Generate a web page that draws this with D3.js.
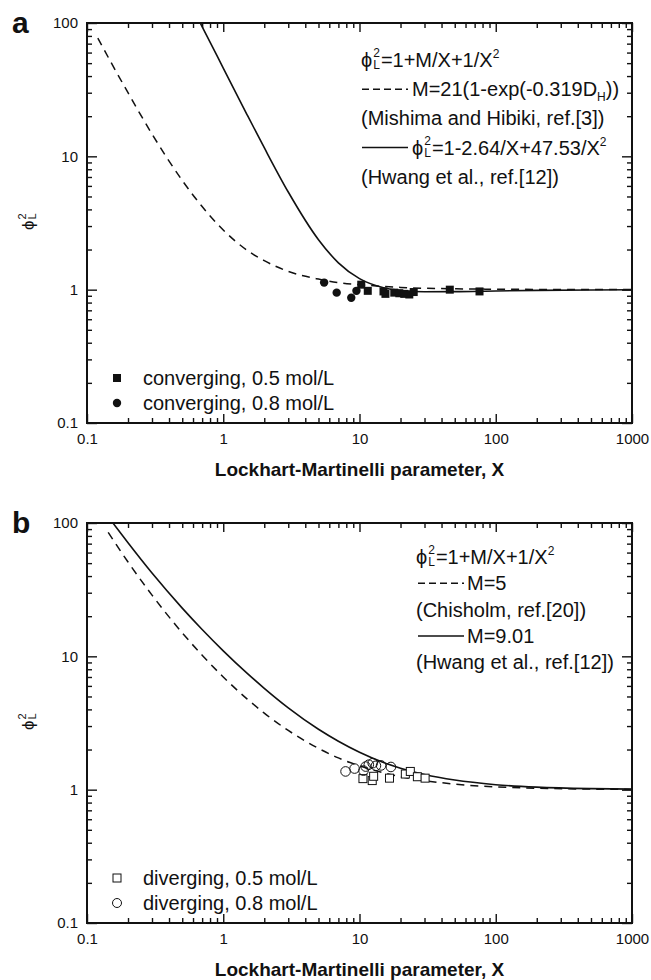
<!DOCTYPE html>
<html>
<head>
<meta charset="utf-8">
<script src="https://cdn.jsdelivr.net/npm/d3@7"></script>
<style>
  html, body { margin: 0; padding: 0; background: #fff; }
  svg { display: block; }
  text { font-family: "Liberation Sans", Arial, sans-serif; fill: #111; }
</style>
</head>
<body>
<svg id="chart" width="651" height="980"></svg>
<script>
// ---------------- DATA ----------------
const xTickValues = [0.1, 1, 10, 100, 1000];
const xTickLabels = ["0.1", "1", "10", "100", "1000"];
const yTickValues = [0.1, 1, 10, 100];
const yTickLabels = ["0.1", "1", "10", "100"];
const xAxisTitle = "Lockhart-Martinelli parameter, X";

// Panel a curves
const aDashedX = [0.12, 0.15, 0.2, 0.3, 0.5, 0.7, 1, 1.5, 2, 3, 5, 7, 10, 20, 50, 100, 1000];
const aDashedY = [77, 50.7, 30, 14.7, 6.6, 4.2, 2.8, 1.97, 1.65, 1.37, 1.2, 1.13, 1.09, 1.04, 1.016, 1.008, 1.001];
const aSolidX = [0.678, 0.8, 1, 1.5, 2, 3, 5, 7, 10, 15, 20, 30, 50, 100, 200, 500, 1000];
const aSolidY = [100, 72, 45.9, 20.4, 11.6, 5.4, 2.37, 1.59, 1.21, 1.035, 0.987, 0.965, 0.966, 0.978, 0.988, 0.995, 0.998];

// Panel a data points
const aSquareX = [10.3, 11.5, 15, 15.5, 18, 19.6, 21.3, 23.2, 25, 46, 76];
const aSquareY = [1.09, 0.98, 0.97, 0.93, 0.95, 0.94, 0.93, 0.92, 0.96, 1.0, 0.97];
const aCircleX = [5.5, 6.8, 8.7, 9.5];
const aCircleY = [1.13, 0.95, 0.87, 0.98];

// Panel b curves
const bDashedX = [0.143, 0.2, 0.3, 0.5, 0.7, 1, 1.5, 2, 3, 5, 7, 10, 15, 20, 30, 50, 100, 200, 500, 1000];
const bDashedY = [85, 51, 28.8, 15, 10.2, 7, 4.78, 3.75, 2.78, 2.04, 1.73, 1.51, 1.34, 1.25, 1.17, 1.1, 1.05, 1.025, 1.01, 1.005];
const bSolidX = [0.155, 0.2, 0.3, 0.5, 0.7, 1, 1.5, 2, 3, 5, 7, 10, 15, 20, 30, 50, 100, 200, 500, 1000];
const bSolidY = [100, 71, 42.1, 23, 15.9, 11, 7.45, 5.76, 4.11, 2.84, 2.31, 1.91, 1.6, 1.45, 1.3, 1.18, 1.09, 1.045, 1.018, 1.009];

// Panel b data points
const bSquareX = [10.6, 12.4, 12.7, 16.6, 21.7, 23.6, 26.6, 30.3];
const bSquareY = [1.21, 1.17, 1.26, 1.22, 1.31, 1.37, 1.25, 1.22];
const bCircleX = [7.9, 9.2, 10.7, 11.1, 11.7, 12.5, 13.2, 14.4, 17.0];
const bCircleY = [1.37, 1.44, 1.39, 1.49, 1.54, 1.58, 1.51, 1.52, 1.48];

const aLegendSeries = ["converging, 0.5 mol/L", "converging, 0.8 mol/L"];
const bLegendSeries = ["diverging, 0.5 mol/L", "diverging, 0.8 mol/L"];

// ---------------- DRAW ----------------
const svg = d3.select("#chart");
const W = 545, H = 400, L = 87;

function zip(xs, ys) { return xs.map((x, i) => [x, ys[i]]); }

// rich text helper
function rich(g, x, y, parts, size) {
  let cx = x;
  const small = Math.round(size * 0.62);
  parts.forEach(p => {
    if (p.k === "stack") {
      const a = g.append("text").attr("x", cx + 1).attr("y", y - size * 0.5).attr("font-size", small).text(p.sup);
      const b = g.append("text").attr("x", cx + 1).attr("y", y + size * 0.12).attr("font-size", small).text(p.sub);
      cx += Math.max(a.node().getComputedTextLength(), b.node().getComputedTextLength()) + 2;
    } else {
      let yy = y, fs = size;
      if (p.k === "sup") { yy = y - size * 0.45; fs = small; }
      if (p.k === "sub") { yy = y + size * 0.22; fs = small; }
      const t = g.append("text").attr("x", cx).attr("y", yy).attr("font-size", fs).text(p.t);
      cx += t.node().getComputedTextLength();
    }
  });
  return cx;
}

const phiL = [{t: "\u03D5", k: "n"}, {k: "stack", sup: "2", sub: "L"}];

function panel(cfg) {
  const T = cfg.top;
  const x = d3.scaleLog().domain([0.1, 1000]).range([L, L + W]);
  const y = d3.scaleLog().domain([0.1, 100]).range([T + H, T]);
  const g = svg.append("g");

  const clipId = "clip" + cfg.letter;
  svg.append("clipPath").attr("id", clipId).append("rect")
    .attr("x", L).attr("y", T).attr("width", W).attr("height", H);

  const minorX = x.ticks().filter(v => !xTickValues.some(t => Math.abs(t - v) < 1e-9));
  const minorY = y.ticks().filter(v => !yTickValues.some(t => Math.abs(t - v) < 1e-9));

  function styleAxis(sel) {
    sel.select(".domain").remove();
    sel.selectAll(".tick line").attr("stroke", "#111").attr("stroke-width", 1.4);
    sel.selectAll(".tick text").attr("font-size", 15).attr("fill", "#111")
      .attr("font-family", "Liberation Sans, Arial, sans-serif");
  }
  g.append("g").attr("transform", `translate(0,${T + H})`)
    .call(d3.axisBottom(x).tickValues(xTickValues).tickFormat((d, i) => xTickLabels[i]).tickSize(-9).tickPadding(10))
    .call(styleAxis);
  g.append("g").attr("transform", `translate(0,${T + H})`)
    .call(d3.axisBottom(x).tickValues(minorX).tickFormat("").tickSize(-5)).call(styleAxis);
  g.append("g").attr("transform", `translate(0,${T})`)
    .call(d3.axisTop(x).tickValues(xTickValues).tickFormat("").tickSize(-9)).call(styleAxis);
  g.append("g").attr("transform", `translate(0,${T})`)
    .call(d3.axisTop(x).tickValues(minorX).tickFormat("").tickSize(-5)).call(styleAxis);
  g.append("g").attr("transform", `translate(${L},0)`)
    .call(d3.axisLeft(y).tickValues(yTickValues).tickFormat((d, i) => yTickLabels[i]).tickSize(-10).tickPadding(9))
    .call(styleAxis);
  g.append("g").attr("transform", `translate(${L},0)`)
    .call(d3.axisLeft(y).tickValues(minorY).tickFormat("").tickSize(-5)).call(styleAxis);
  g.append("g").attr("transform", `translate(${L + W},0)`)
    .call(d3.axisRight(y).tickValues(yTickValues).tickFormat("").tickSize(-10)).call(styleAxis);
  g.append("g").attr("transform", `translate(${L + W},0)`)
    .call(d3.axisRight(y).tickValues(minorY).tickFormat("").tickSize(-5)).call(styleAxis);

  g.append("rect").attr("x", L).attr("y", T).attr("width", W).attr("height", H)
    .attr("fill", "none").attr("stroke", "#111").attr("stroke-width", 2);

  const line = d3.line().x(d => x(d[0])).y(d => y(d[1])).curve(d3.curveMonotoneX);
  const cg = g.append("g").attr("clip-path", `url(#${clipId})`);
  cg.append("path").datum(zip(cfg.dashedX, cfg.dashedY)).attr("d", line)
    .attr("fill", "none").attr("stroke", "#111").attr("stroke-width", 1.5).attr("stroke-dasharray", "8,6");
  cg.append("path").datum(zip(cfg.solidX, cfg.solidY)).attr("d", line)
    .attr("fill", "none").attr("stroke", "#111").attr("stroke-width", 1.6);

  const filled = cfg.filled;
  cg.selectAll(".sq").data(zip(cfg.sqX, cfg.sqY)).join("rect")
    .attr("x", d => x(d[0]) - 4).attr("y", d => y(d[1]) - 4).attr("width", 8).attr("height", 8)
    .attr("fill", filled ? "#111" : "#fff").attr("stroke", "#111").attr("stroke-width", filled ? 0 : 1);
  cg.selectAll(".ci").data(zip(cfg.ciX, cfg.ciY)).join("circle")
    .attr("cx", d => x(d[0])).attr("cy", d => y(d[1])).attr("r", filled ? 4.2 : 4.8)
    .attr("fill", filled ? "#111" : "none").attr("stroke", "#111").attr("stroke-width", filled ? 0 : 1);

  const lg = g.append("g");
  const ly0 = T + H - 45, lstep = 25;
  lg.append("rect").attr("x", 117 - 4).attr("y", ly0 - 4).attr("width", 8).attr("height", 8)
    .attr("fill", filled ? "#111" : "#fff").attr("stroke", "#111").attr("stroke-width", filled ? 0 : 1);
  lg.append("circle").attr("cx", 117).attr("cy", ly0 + lstep).attr("r", filled ? 4.2 : 4.5)
    .attr("fill", filled ? "#111" : "none").attr("stroke", "#111").attr("stroke-width", filled ? 0 : 1);
  cfg.series.forEach((s, i) => {
    lg.append("text").attr("x", 143).attr("y", ly0 + 7 + i * lstep).attr("font-size", 20).text(s);
  });

  const fg = g.append("g");
  cfg.formula(fg, cfg.fx, cfg.fy, cfg.fstep);

  svg.append("text").attr("x", 12).attr("y", T + 10).attr("font-size", 30).attr("font-weight", "bold").text(cfg.letter);

  const yl = svg.append("g").attr("transform", `translate(34,${T + 196}) rotate(-90)`);
  rich(yl, -11, 0, phiL, 17);

  svg.append("text").attr("x", L + W / 2).attr("y", T + H + 53).attr("text-anchor", "middle")
    .attr("font-size", 19).attr("font-weight", "bold").text(xAxisTitle);
}

function sample(g, x0, y, dashed) {
  g.append("line").attr("x1", x0).attr("x2", x0 + 46).attr("y1", y - 7).attr("y2", y - 7)
    .attr("stroke", "#111").attr("stroke-width", 1.5).attr("stroke-dasharray", dashed ? "7,4" : null);
}

panel({
  letter: "a", top: 23, filled: true,
  dashedX: aDashedX, dashedY: aDashedY, solidX: aSolidX, solidY: aSolidY,
  sqX: aSquareX, sqY: aSquareY, ciX: aCircleX, ciY: aCircleY,
  series: aLegendSeries, fx: 361, fy: 67, fstep: 29.2,
  formula: (g, x0, y0, s) => {
    rich(g, x0, y0, [...phiL, {t: "=1+M/X+1/X", k: "n"}, {t: "2", k: "sup"}], 20);
    sample(g, x0 + 1, y0 + s, true);
    rich(g, x0 + 51, y0 + s, [{t: "M=21(1-exp(-0.319D", k: "n"}, {t: "H", k: "sub"}, {t: "))", k: "n"}], 20);
    rich(g, x0, y0 + 2 * s, [{t: "(Mishima and Hibiki, ref.[3])", k: "n"}], 20);
    sample(g, x0 + 1, y0 + 3 * s, false);
    rich(g, x0 + 51, y0 + 3 * s, [...phiL, {t: "=1-2.64/X+47.53/X", k: "n"}, {t: "2", k: "sup"}], 20);
    rich(g, x0, y0 + 4 * s, [{t: "(Hwang et al., ref.[12])", k: "n"}], 20);
  }
});

panel({
  letter: "b", top: 523, filled: false,
  dashedX: bDashedX, dashedY: bDashedY, solidX: bSolidX, solidY: bSolidY,
  sqX: bSquareX, sqY: bSquareY, ciX: bCircleX, ciY: bCircleY,
  series: bLegendSeries, fx: 416, fy: 564, fstep: 26.3,
  formula: (g, x0, y0, s) => {
    rich(g, x0, y0, [...phiL, {t: "=1+M/X+1/X", k: "n"}, {t: "2", k: "sup"}], 20);
    sample(g, x0 + 2, y0 + s, true);
    rich(g, x0 + 51, y0 + s, [{t: "M=5", k: "n"}], 20);
    rich(g, x0, y0 + 2 * s, [{t: "(Chisholm, ref.[20])", k: "n"}], 20);
    sample(g, x0 + 2, y0 + 3 * s, false);
    rich(g, x0 + 51, y0 + 3 * s, [{t: "M=9.01", k: "n"}], 20);
    rich(g, x0, y0 + 4 * s, [{t: "(Hwang et al., ref.[12])", k: "n"}], 20);
  }
});
</script>
</body>
</html>
